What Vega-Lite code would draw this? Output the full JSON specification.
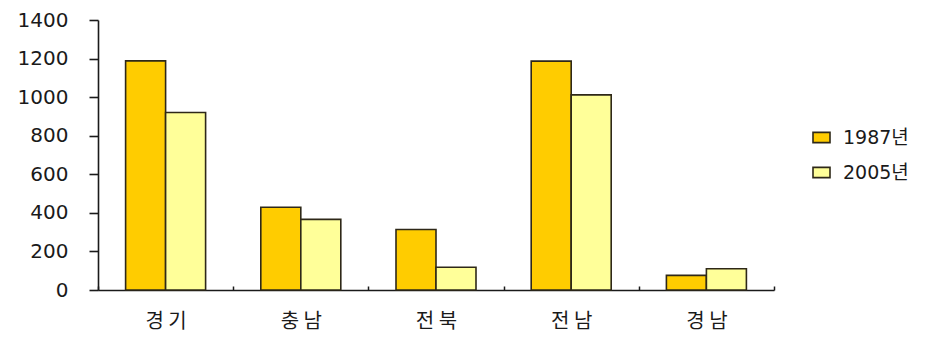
{
  "$schema": "https://vega.github.io/schema/vega-lite/v6.json",
  "autosize": "none",
  "padding": {"left": 98, "top": 20, "right": 163, "bottom": 50},
  "width": 676,
  "height": 270,
  "background": "white",
  "config": {
    "view": {"stroke": null},
    "font": "Noto Sans CJK KR"
  },
  "data": {
    "values": [
      {"region": "경 기", "year": "1987년", "value": 1188},
      {"region": "경 기", "year": "2005년", "value": 920},
      {"region": "충 남", "year": "1987년", "value": 429},
      {"region": "충 남", "year": "2005년", "value": 366},
      {"region": "전 북", "year": "1987년", "value": 314},
      {"region": "전 북", "year": "2005년", "value": 118},
      {"region": "전 남", "year": "1987년", "value": 1187},
      {"region": "전 남", "year": "2005년", "value": 1012},
      {"region": "경 남", "year": "1987년", "value": 76},
      {"region": "경 남", "year": "2005년", "value": 110}
    ]
  },
  "mark": {"type": "bar", "stroke": "#2e2818", "strokeWidth": 1.6},
  "encoding": {
    "x": {
      "field": "region",
      "type": "nominal",
      "sort": null,
      "scale": {"paddingInner": 0, "paddingOuter": 0},
      "axis": {
        "title": null,
        "labelAngle": 0,
        "labelFontSize": 20,
        "labelColor": "#1a1a1a",
        "labelPadding": 25,
        "labelDx": -7,
        "domainColor": "#1a1a1a",
        "domainWidth": 1.6,
        "tickBand": "extent",
        "tickSize": -4,
        "tickColor": "#1a1a1a",
        "tickWidth": 1.5
      }
    },
    "xOffset": {
      "field": "year",
      "type": "nominal",
      "scale": {"paddingInner": 0, "paddingOuter": 0.69}
    },
    "y": {
      "field": "value",
      "type": "quantitative",
      "scale": {"domain": [0, 1400], "nice": false},
      "axis": {
        "title": null,
        "values": [0, 200, 400, 600, 800, 1000, 1200, 1400],
        "format": "d",
        "grid": false,
        "labelFont": "DejaVu Sans",
        "labelFontSize": 20,
        "labelColor": "#1a1a1a",
        "labelPadding": 21,
        "tickSize": 9,
        "tickColor": "#1a1a1a",
        "tickWidth": 1.6,
        "domainColor": "#1a1a1a",
        "domainWidth": 1.6
      }
    },
    "fill": {
      "field": "year",
      "type": "nominal",
      "scale": {"domain": ["1987년", "2005년"], "range": ["#FFCC00", "#FFFF99"]},
      "legend": {
        "title": null,
        "orient": "none",
        "legendX": 714,
        "legendY": 108,
        "labelFont": "DejaVu Sans, Noto Sans CJK KR",
        "labelFontSize": 19,
        "labelColor": "#1a1a1a",
        "symbolType": "M-1,-0.6H1V0.6H-1Z",
        "symbolSize": 289,
        "symbolStrokeColor": "#2e2818",
        "symbolStrokeWidth": 1.6,
        "rowPadding": 15,
        "labelOffset": 12
      }
    }
  }
}
